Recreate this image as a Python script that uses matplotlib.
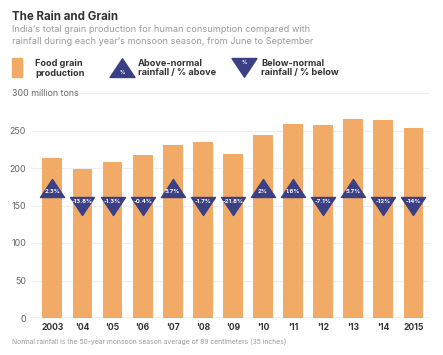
import matplotlib
matplotlib.use("Agg")
import matplotlib.pyplot as plt
from matplotlib.path import Path
from matplotlib.patches import Rectangle

plt.rcParams['font.family'] = ['Inter', 'DejaVu Sans']

# ---- data ----
years = ["2003", "'04", "'05", "'06", "'07", "'08", "'09", "'10", "'11", "'12", "'13", "'14", "2015"]
grain = [213.5, 199, 208.6, 217.5, 231, 235, 219, 244.6, 259.3, 256.8, 265, 264.3, 253.5]
rain_pct = [2.3, -13.8, -1.3, -0.4, 5.7, -1.7, -21.8, 2, 1.6, -7.1, 5.7, -12, -14]
yticks = [0, 50, 100, 150, 200, 250, 300]

ORANGE = "#F2AB67"
NAVY = "#3B3F84"
DARK = "#333333"
GRAY = "#9a9a9a"

W, H = 443, 355
fig = plt.figure(figsize=(W / 100, H / 100), dpi=100)

def fx(px):
    return px / W

def fy(py):
    return 1 - py / H

ax = fig.add_axes([fx(30.7), fy(318), fx(430) - fx(30.7), fy(93) - fy(318)])
x = list(range(len(years)))
ax.bar(x, grain, width=0.66, color=ORANGE, zorder=2)
ax.set_xlim(-0.72, 12.55)
ax.set_ylim(0, 300)

# gridlines
for t in yticks[1:-1]:
    ax.axhline(t, color="#eeeeee", lw=0.8, zorder=0)
ax.axhline(300, xmin=0.112, color="#eeeeee", lw=0.8, zorder=0)
ax.axhline(0, color="#8a8a8a", lw=0.9, zorder=3)

for s in ax.spines.values():
    s.set_visible(False)
ax.set_yticks(yticks[:-1])
ax.set_yticklabels([str(t) for t in yticks[:-1]], color="#666666", fontsize=6.4)
ax.tick_params(axis="y", length=0, pad=3.4)
ax.set_xticks(x)
ax.set_xticklabels(years, fontsize=6.2, fontweight="bold", color=DARK)
ax.tick_params(axis="x", length=0, pad=3.5)
fig.text(fx(12), fy(93), "300 million tons", fontsize=6.4, color="#666666", va="center", ha="left")

# triangle markers
up_path = Path([(-1, 0), (1, 0), (0, 1.5), (-1, 0)], closed=True)
dn_path = Path([(-1, 0), (1, 0), (0, -1.5), (-1, 0)], closed=True)
BASE = 162
for xi, v in zip(x, rain_pct):
    m = up_path if v > 0 else dn_path
    ax.plot([xi], [BASE], marker=m, markersize=26, color=NAVY, zorder=4, linestyle="none")
    off = 3.5 if v > 0 else -3.6
    ax.annotate(f"{v:g}%", (xi, BASE), xytext=(0, off), textcoords="offset points",
                ha="center", va="center", fontsize=4.3, fontweight="bold", color="white",
                fontstretch="condensed", zorder=5)

# title & subtitle
fig.text(fx(12), fy(20), "The Rain and Grain", fontsize=8.3, fontweight="bold", color=DARK, va="baseline")
fig.text(fx(12), fy(32.5), "India\u2019s total grain production for human consumption compared with",
         fontsize=6.6, color=GRAY, va="baseline")
fig.text(fx(12), fy(44), "rainfall during each year\u2019s monsoon season, from June to September",
         fontsize=6.6, color=GRAY, va="baseline")

# legend
fig.patches.append(Rectangle((fx(11.7), fy(77)), fx(10.3), fy(58) - fy(77),
                             transform=fig.transFigure, color=ORANGE))
LFS = 6.6
fig.text(fx(35), fy(65.5), "Food grain", fontsize=LFS, fontweight="bold", color=DARK, va="baseline")
fig.text(fx(35), fy(75.5), "production", fontsize=LFS, fontweight="bold", color=DARK, va="baseline")

lax = fig.add_axes([0, 0, 1, 1], facecolor="none")
lax.set_xlim(0, W)
lax.set_ylim(H, 0)
lax.axis("off")
lax.plot([122], [77], marker=up_path, markersize=27, color=NAVY, linestyle="none")
lax.text(122, 72.5, "%", fontsize=3.8, color="white", fontweight="bold", ha="center", va="center")
lax.plot([244.5], [58], marker=dn_path, markersize=27, color=NAVY, linestyle="none")
lax.text(244.5, 62.5, "%", fontsize=3.8, color="white", fontweight="bold", ha="center", va="center")
fig.text(fx(138), fy(65.5), "Above-normal", fontsize=LFS, fontweight="bold", color=DARK, va="baseline")
fig.text(fx(138), fy(75.5), "rainfall / % above", fontsize=LFS, fontweight="bold", color=DARK, va="baseline")
fig.text(fx(261), fy(65.5), "Below-normal", fontsize=LFS, fontweight="bold", color=DARK, va="baseline")
fig.text(fx(261), fy(75.5), "rainfall / % below", fontsize=LFS, fontweight="bold", color=DARK, va="baseline")

# footnote
fig.text(fx(12), fy(344), "Normal rainfall is the 50-year monsoon season average of 89 centimeters (35 inches)",
         fontsize=4.9, color=GRAY, va="baseline")

fig.savefig("out.png", dpi=100, facecolor="white")
